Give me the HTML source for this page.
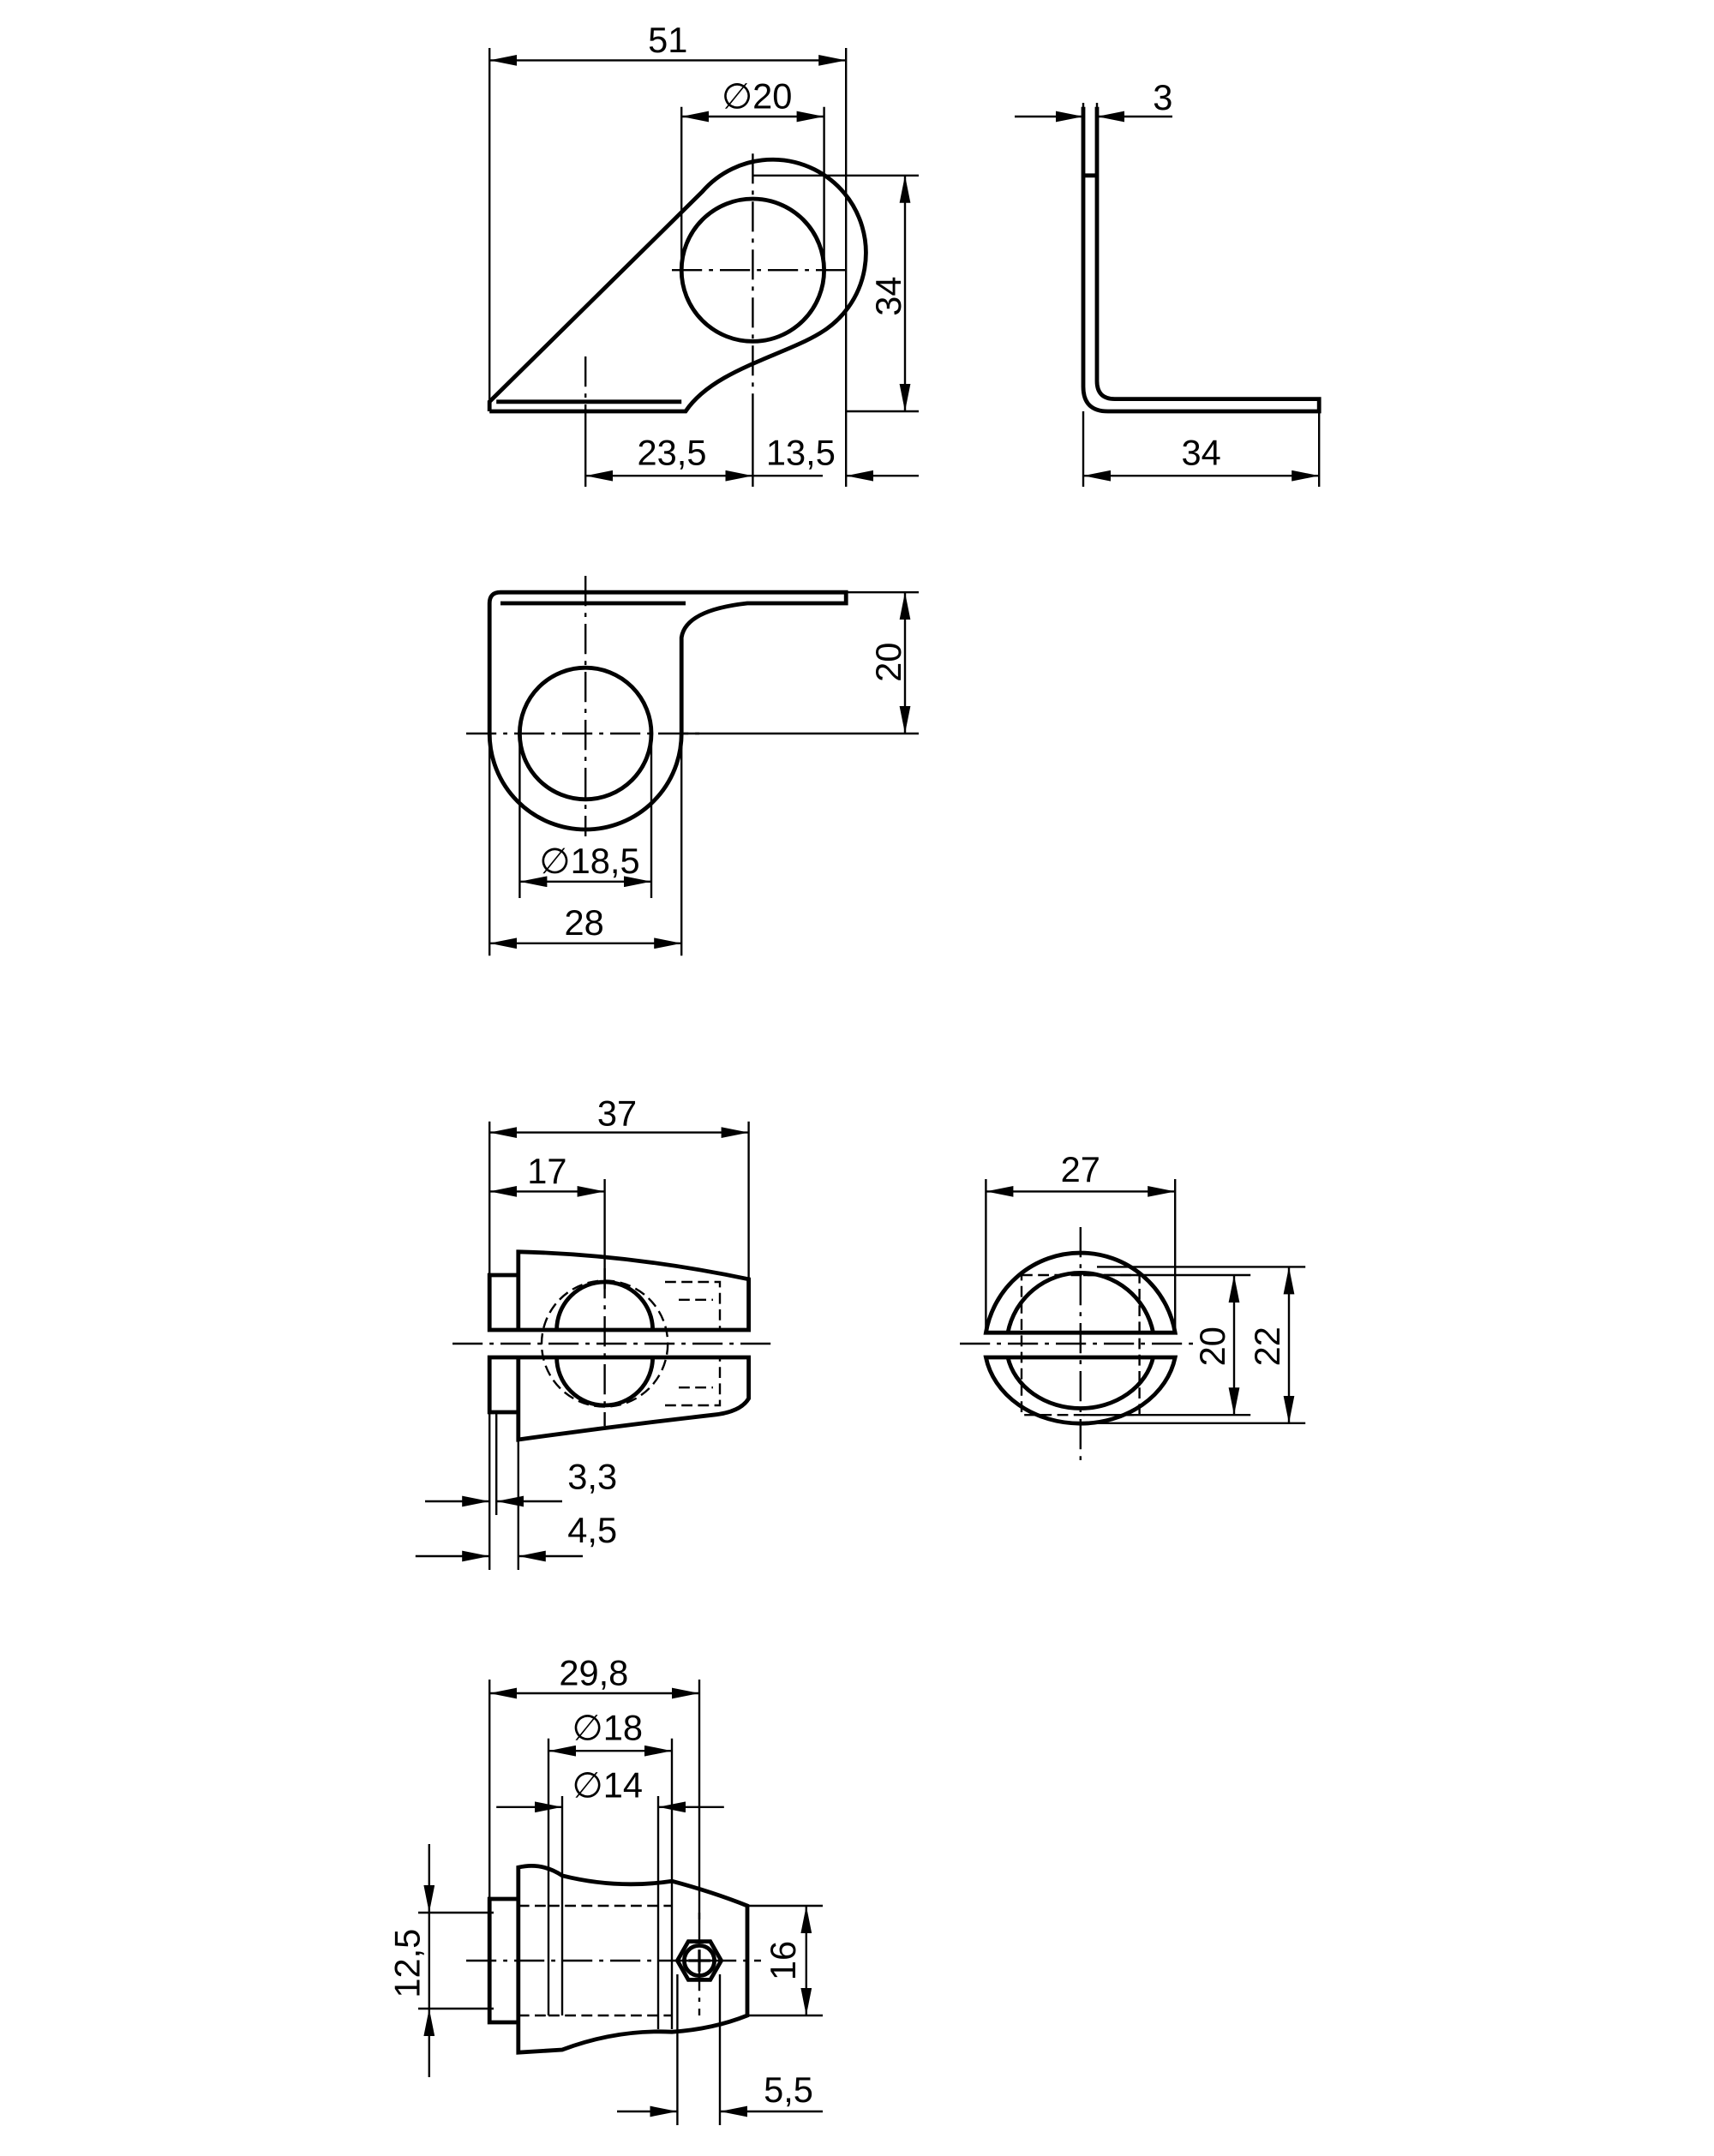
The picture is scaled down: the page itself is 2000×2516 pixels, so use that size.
<!DOCTYPE html>
<html><head><style>html,body{margin:0;padding:0;background:#fff}svg{display:block}</style></head>
<body>
<svg width="2000" height="2516" viewBox="0 0 1250 1572.5" xmlns="http://www.w3.org/2000/svg" font-family="Liberation Sans, sans-serif" font-size="26">
<defs>
<marker id="a" viewBox="0 0 20 8" refX="20" refY="4" markerWidth="20" markerHeight="8" markerUnits="userSpaceOnUse" orient="auto-start-reverse"><path d="M0,0L20,4L0,8z" fill="#000"/></marker>
</defs>
<g fill="none" stroke="#000">
<!-- thin lines -->
<g stroke-width="1.5">
<!-- view1 -->
<line x1="357" y1="35" x2="357" y2="300"/><line x1="617" y1="35" x2="617" y2="300"/>
<line x1="497" y1="78" x2="497" y2="197"/><line x1="601" y1="78" x2="601" y2="197"/>
<line x1="549" y1="128" x2="670" y2="128"/><line x1="617" y1="300" x2="670" y2="300"/>
<line x1="427" y1="300" x2="427" y2="355"/><line x1="549" y1="300" x2="549" y2="355"/><line x1="617" y1="300" x2="617" y2="355"/>
<line x1="357" y1="44" x2="617" y2="44" marker-start="url(#a)" marker-end="url(#a)"/>
<line x1="497" y1="85" x2="601" y2="85" marker-start="url(#a)" marker-end="url(#a)"/>
<line x1="660" y1="128" x2="660" y2="300" marker-start="url(#a)" marker-end="url(#a)"/>
<line x1="427" y1="347" x2="549" y2="347" marker-start="url(#a)" marker-end="url(#a)"/>
<line x1="670" y1="347" x2="617" y2="347" marker-end="url(#a)"/>
<line x1="549" y1="347" x2="600" y2="347"/>
<g stroke-dasharray="22,5,3,5"><line x1="549" y1="112" x2="549" y2="300"/><line x1="490" y1="197" x2="622" y2="197"/><line x1="427" y1="260" x2="427" y2="300"/></g>
<!-- L view -->
<line x1="790" y1="75" x2="790" y2="128"/><line x1="800" y1="75" x2="800" y2="128"/>
<line x1="740" y1="85" x2="790" y2="85" marker-end="url(#a)"/><line x1="855" y1="85" x2="800" y2="85" marker-end="url(#a)"/>
<line x1="790" y1="300" x2="790" y2="355"/><line x1="962" y1="300" x2="962" y2="355"/>
<line x1="790" y1="347" x2="962" y2="347" marker-start="url(#a)" marker-end="url(#a)"/>
<!-- view2 -->
<line x1="617" y1="432" x2="670" y2="432"/><line x1="497" y1="535" x2="670" y2="535"/>
<line x1="660" y1="432" x2="660" y2="535" marker-start="url(#a)" marker-end="url(#a)"/>
<line x1="357" y1="535" x2="357" y2="697"/><line x1="497" y1="535" x2="497" y2="697"/>
<line x1="379" y1="535" x2="379" y2="655"/><line x1="475" y1="535" x2="475" y2="655"/>
<line x1="379" y1="643" x2="475" y2="643" marker-start="url(#a)" marker-end="url(#a)"/>
<line x1="357" y1="688" x2="497" y2="688" marker-start="url(#a)" marker-end="url(#a)"/>
<g stroke-dasharray="22,5,3,5"><line x1="427" y1="420" x2="427" y2="610"/><line x1="340" y1="535" x2="510" y2="535"/></g>
<!-- view3 -->
<line x1="357" y1="818" x2="357" y2="930"/><line x1="546" y1="818" x2="546" y2="970"/><line x1="441" y1="860" x2="441" y2="940"/>
<line x1="357" y1="826" x2="546" y2="826" marker-start="url(#a)" marker-end="url(#a)"/>
<line x1="357" y1="869" x2="441" y2="869" marker-start="url(#a)" marker-end="url(#a)"/>
<line x1="357" y1="1030" x2="357" y2="1145"/><line x1="362" y1="1030" x2="362" y2="1105"/><line x1="378" y1="1050" x2="378" y2="1145"/>
<line x1="310" y1="1095" x2="357" y2="1095" marker-end="url(#a)"/><line x1="410" y1="1095" x2="362" y2="1095" marker-end="url(#a)"/>
<line x1="303" y1="1135" x2="357" y2="1135" marker-end="url(#a)"/><line x1="425" y1="1135" x2="378" y2="1135" marker-end="url(#a)"/>
<g stroke-dasharray="22,5,3,5"><line x1="330" y1="980" x2="562" y2="980"/><line x1="441" y1="925" x2="441" y2="1040"/></g>
<!-- view4 -->
<line x1="719" y1="860" x2="719" y2="972"/><line x1="857" y1="860" x2="857" y2="972"/>
<line x1="719" y1="869" x2="857" y2="869" marker-start="url(#a)" marker-end="url(#a)"/>
<line x1="800" y1="924" x2="952" y2="924"/><line x1="800" y1="1038" x2="952" y2="1038"/>
<line x1="790" y1="930" x2="912" y2="930"/><line x1="790" y1="1032" x2="912" y2="1032"/>
<line x1="900" y1="930" x2="900" y2="1032" marker-start="url(#a)" marker-end="url(#a)"/>
<line x1="940" y1="924" x2="940" y2="1038" marker-start="url(#a)" marker-end="url(#a)"/>
<g stroke-dasharray="22,5,3,5"><line x1="700" y1="980" x2="870" y2="980"/><line x1="788" y1="895" x2="788" y2="1065"/></g>
<!-- view5 -->
<line x1="357" y1="1225" x2="357" y2="1390"/><line x1="510" y1="1225" x2="510" y2="1400"/>
<line x1="400" y1="1268" x2="400" y2="1470"/><line x1="490" y1="1268" x2="490" y2="1480"/>
<line x1="410" y1="1310" x2="410" y2="1470"/><line x1="480" y1="1310" x2="480" y2="1480"/>
<line x1="357" y1="1235" x2="510" y2="1235" marker-start="url(#a)" marker-end="url(#a)"/>
<line x1="400" y1="1277" x2="490" y2="1277" marker-start="url(#a)" marker-end="url(#a)"/>
<line x1="362" y1="1318" x2="410" y2="1318" marker-end="url(#a)"/><line x1="528" y1="1318" x2="480" y2="1318" marker-end="url(#a)"/>
<line x1="305" y1="1395" x2="360" y2="1395"/><line x1="305" y1="1465" x2="360" y2="1465"/>
<line x1="313" y1="1345" x2="313" y2="1395" marker-end="url(#a)"/><line x1="313" y1="1515" x2="313" y2="1465" marker-end="url(#a)"/>
<line x1="313" y1="1395" x2="313" y2="1465"/>
<line x1="545" y1="1390" x2="600" y2="1390"/><line x1="545" y1="1470" x2="600" y2="1470"/>
<line x1="588" y1="1390" x2="588" y2="1470" marker-start="url(#a)" marker-end="url(#a)"/>
<line x1="494" y1="1440" x2="494" y2="1550"/><line x1="525" y1="1440" x2="525" y2="1550"/>
<line x1="450" y1="1540" x2="494" y2="1540" marker-end="url(#a)"/><line x1="600" y1="1540" x2="525" y2="1540" marker-end="url(#a)"/>
<g stroke-dasharray="22,5,3,5"><line x1="340" y1="1430" x2="555" y2="1430"/><line x1="510" y1="1395" x2="510" y2="1470"/></g>
<g stroke-dasharray="8,4"><line x1="378" y1="1390" x2="400" y2="1390"/><line x1="378" y1="1470" x2="400" y2="1470"/><line x1="400" y1="1390" x2="490" y2="1390"/><line x1="400" y1="1470" x2="490" y2="1470"/></g>
</g>
<!-- thick outlines -->
<g stroke-width="3">
<path d="M357,300 L357,293 L512,140 A68,68 0 1 1 598,243 C570,260 520,270 500,300 L497,300 M357,300 L497,300 M362,293 L497,293"/>
<circle cx="549" cy="197" r="52"/>
<path d="M790,78 L790,282 Q790,300 808,300 L962,300 L962,291 L813,291 Q800,291 800,278 L800,78 M790,128 L800,128"/>
<path d="M357,440 Q357,432 365,432 L617,432 L617,440 L545,440 Q500,445 497,465 L497,535 A70,70 0 0 1 357,535 Z M365,440 L500,440"/>
<circle cx="427" cy="535" r="48"/>
<path d="M378,970 L378,913 Q460,915 546,933 L546,970 Z M378,990 L546,990 L546,1020 Q540,1030 520,1032 Q450,1040 378,1050 Z M357,930 L378,930 L378,970 L357,970 Z M357,990 L378,990 L378,1030 L357,1030 Z"/>
<path d="M406,970 A35,35 0 0 1 476,970 M406,990 A35,35 0 0 0 476,990" />
<path d="M719,972 A70,70 0 0 1 857,972 Z M719,990 L857,990 A70,58 0 0 1 719,990 Z"/>
<path d="M735,972 A54,54 0 0 1 841,972 M735,990 A54,46 0 0 0 841,990"/>
<path d="M378,1390 L378,1362 Q395,1358 410,1368 Q450,1378 490,1372 Q520,1380 545,1390 L545,1470 Q520,1480 490,1482 Q450,1480 410,1495 L378,1497 Z M357,1385 L378,1385 L378,1475 L357,1475 Z"/>
<path d="M494,1430 l8,-14 h16 l8,14 l-8,14 h-16 z"/><circle cx="510" cy="1430" r="11"/>
</g>
<g stroke-width="1.5" stroke-dasharray="8,4">
<circle cx="441" cy="980" r="46"/>
<path d="M485,935 h40 v35 M485,1025 h40 v-35 M495,948 h25 M495,1012 h25"/>
<path d="M745,930 h86 v102 h-86 z" />
</g>
<line x1="510" y1="1422" x2="510" y2="1438" stroke-width="2"/><line x1="502" y1="1430" x2="518" y2="1430" stroke-width="2"/>
</g>
<g fill="#000" text-anchor="middle">
<text x="487" y="38">51</text><text x="552" y="79">∅20</text>
<text x="848" y="80">3</text>
<text x="490" y="339">23,5</text><text x="584" y="339">13,5</text>
<text x="876" y="339">34</text>
<text transform="translate(657,216) rotate(-90)">34</text>
<text transform="translate(657,483) rotate(-90)">20</text>
<text x="430" y="637">∅18,5</text><text x="426" y="682">28</text>
<text x="450" y="821">37</text><text x="399" y="863">17</text>
<text x="432" y="1086">3,3</text><text x="432" y="1125">4,5</text>
<text x="788" y="862">27</text>
<text transform="translate(893,982) rotate(-90)">20</text>
<text transform="translate(933,982) rotate(-90)">22</text>
<text x="433" y="1229">29,8</text><text x="443" y="1269">∅18</text><text x="443" y="1311">∅14</text>
<text transform="translate(306,1432) rotate(-90)">12,5</text>
<text transform="translate(580,1430) rotate(-90)">16</text>
<text x="575" y="1533">5,5</text>
</g>
</svg>
</body></html>
